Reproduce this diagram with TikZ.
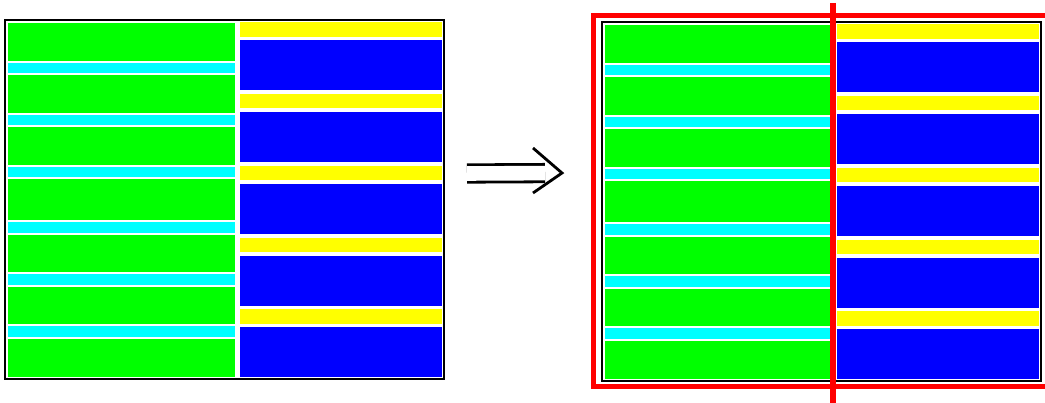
\documentclass[tikz,border=0pt]{standalone}
\usepackage{tikz}
\usepackage{xcolor}
\usetikzlibrary{positioning}

\definecolor{cellgreen}{RGB}{0,255,0}
\definecolor{cellcyan}{RGB}{0,255,255}
\definecolor{cellyellow}{RGB}{255,255,0}
\definecolor{cellblue}{RGB}{0,0,255}
\definecolor{cutred}{RGB}{255,0,0}

\tikzset{
    cell/.style={draw=white, line width=0.8pt},
    frame/.style={draw=black, line width=2.3pt},
    cutline/.style={draw=cutred, line width=5pt},
    shaft/.style={double=white, double distance=14.6pt, line width=2.8pt},
    % one block: green/cyan strips on the left, yellow/blue strips on the right
    tiling/.pic={
        \foreach \a/\b in {22/61, 74/113, 126/165, 178/220, 234/272, 286/324, 338/377}
            \filldraw[cell, fill=cellgreen] (7,\a) rectangle (235,\b);
        \foreach \a/\b in {62/73, 114/125, 166/177, 221/233, 273/285, 325/337}
            \filldraw[cell, fill=cellcyan] (7,\a) rectangle (235,\b);
        \foreach \a/\b in {21/37, 93/108, 165/180, 237/252, 308/324}
            \filldraw[cell, fill=cellyellow] (239,\a) rectangle (442,\b);
        \foreach \a/\b in {39/90, 111/162, 183/234, 255/306, 326/377}
            \filldraw[cell, fill=cellblue] (239,\a) rectangle (442,\b);
        \draw[frame] (5,20) rectangle (444,379);
    }
}

\begin{document}
\begin{tikzpicture}[x=1pt, y=-1pt]
    \clip (0,0) rectangle (1045,403);

    % before
    \pic (before) at (0,0) {tiling};

    % the implication arrow
    \coordinate (from) at (467,173.5);
    \coordinate (to) at (562,173);
    \draw[shaft, shorten >=17pt] (from) -- (to);
    \draw[line width=2.8pt] ([shift={(-29,-25)}]to) -- (to) -- ([shift={(-29,20)}]to);

    % after, with the cut marked in red
    \pic (after) at (597,2) {tiling};
    \draw[cutline] (593.5,15.8) rectangle (1070,386.5);
    \draw[cutline, line width=6pt] (833.3,3) -- (833.3,410);
\end{tikzpicture}
\end{document}
